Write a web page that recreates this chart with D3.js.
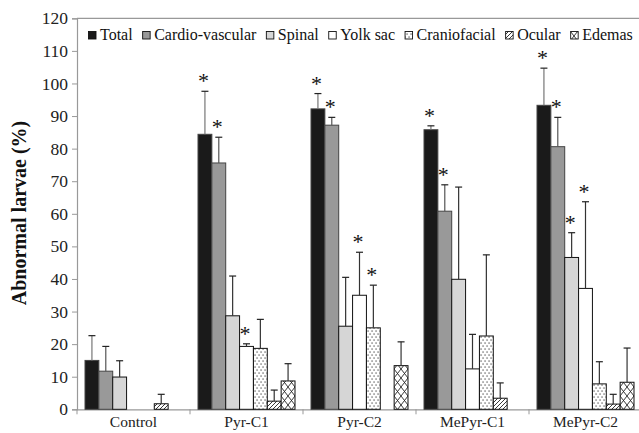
<!DOCTYPE html>
<html><head><meta charset="utf-8">
<script src="https://cdn.jsdelivr.net/npm/d3@7/dist/d3.min.js"></script>
<style>body{margin:0;background:#fff}svg{display:block}</style>
</head><body><svg id="c" width="639" height="433"></svg>
<script>
const groups = ["Control","Pyr-C1","Pyr-C2","MePyr-C1","MePyr-C2"];
const series = ["Total","Cardio-vascular","Spinal","Yolk sac","Craniofacial","Ocular","Edemas"];
// values per series, ordered by group
const total    = [15.0, 84.4, 92.2, 85.8, 93.3];
const cardio   = [11.7, 75.6, 87.2, 60.8, 80.6];
const spinal   = [9.9, 28.7, 25.5, 39.9, 46.6];
const yolk     = [0, 19.3, 35.0, 12.4, 37.1];
const cranio   = [0, 18.7, 25.0, 22.5, 7.8];
const ocular   = [1.7, 2.5, 0, 3.4, 1.6];
const edemas   = [0, 8.7, 13.4, 0, 8.3];
// upper error bar ends
const totalErr  = [22.6, 97.6, 96.9, 87.0, 104.7];
const cardioErr = [19.3, 83.5, 89.6, 68.9, 89.6];
const spinalErr = [14.9, 40.9, 40.5, 68.2, 54.2];
const yolkErr   = [null, 20.1, 48.2, 23.0, 63.7];
const cranioErr = [null, 27.6, 38.1, 47.4, 14.6];
const ocularErr = [4.6, 5.9, null, 8.1, 4.6];
const edemasErr = [null, 14.0, 20.7, null, 18.8];
// significance stars (1 = marked)
const totalSig  = [0,1,1,1,1];
const cardioSig = [0,1,1,1,1];
const spinalSig = [0,0,0,0,1];
const yolkSig   = [0,1,1,0,1];
const cranioSig = [0,0,1,0,0];
const ocularSig = [0,0,0,0,0];
const edemasSig = [0,0,0,0,0];
const yTicks = [0,10,20,30,40,50,60,70,80,90,100,110,120];

const vals = [total,cardio,spinal,yolk,cranio,ocular,edemas];
const errs = [totalErr,cardioErr,spinalErr,yolkErr,cranioErr,ocularErr,edemasErr];
const sigs = [totalSig,cardioSig,spinalSig,yolkSig,cranioSig,ocularSig,edemasSig];
const FF = "'Liberation Serif'";

const svg = d3.select("#c");
const defs = svg.append("defs");
// dots
const pd = defs.append("pattern").attr("id","dots").attr("patternUnits","userSpaceOnUse").attr("width",4).attr("height",6);
pd.append("rect").attr("width",4).attr("height",6).attr("fill","#fff");
pd.append("rect").attr("x",0.5).attr("y",0.5).attr("width",1.1).attr("height",1.1).attr("fill","#222");
pd.append("rect").attr("x",2.5).attr("y",3.5).attr("width",1.1).attr("height",1.1).attr("fill","#222");
// diagonal hatch
const ph = defs.append("pattern").attr("id","hatch").attr("patternUnits","userSpaceOnUse").attr("width",4).attr("height",4);
ph.append("rect").attr("width",4).attr("height",4).attr("fill","#fff");
ph.append("path").attr("d","M-1,1 l2,-2 M0,4 l4,-4 M3,5 l2,-2").attr("stroke","#222").attr("stroke-width",0.9);
// cross hatch
const px = defs.append("pattern").attr("id","cross").attr("patternUnits","userSpaceOnUse").attr("width",7).attr("height",9);
px.append("rect").attr("width",7).attr("height",9).attr("fill","#fff");
px.append("path").attr("d","M0,0 L7,9 M7,0 L0,9").attr("stroke","#222").attr("stroke-width",0.9);

const fills = ["#1a1a1a","#999999","#d6d6d6","#ffffff","url(#dots)","url(#hatch)","url(#cross)"];
const errColors = ["#777","#555","#333","#333","#333","#333","#333"];

const y = d3.scaleLinear().domain([0,120]).range([409.3,18.3]);
const x0 = d3.scaleBand().domain(groups).range([77,642]).padding(0);
const x1 = d3.scaleBand().domain(series).range([8, x0.bandwidth()-8]).padding(0);

// top border
svg.append("line").attr("x1",77).attr("x2",642).attr("y1",y(120)).attr("y2",y(120)).attr("stroke","#999").attr("stroke-width",1.2);

// y axis
const ya = svg.append("g").attr("transform","translate(77,0)")
  .call(d3.axisLeft(y).tickValues(yTicks).tickSize(5).tickPadding(4));
ya.select(".domain").attr("stroke","#999").attr("stroke-width",1.2);
ya.selectAll(".tick line").attr("stroke","#999");
ya.selectAll(".tick text").attr("font-size",17.5).attr("fill","#222").style("font-family",FF);

// x axis
const xa = svg.append("g").attr("transform",`translate(0,${y(0)})`)
  .call(d3.axisBottom(x0).tickSize(0).tickPadding(7));
xa.select(".domain").attr("stroke","#999").attr("stroke-width",1.2);
xa.selectAll(".tick text").attr("font-size",15.5).attr("fill","#222").style("font-family",FF);
// boundary ticks
xa.selectAll(".bt").data(groups).enter().append("line")
  .attr("x1",d=>x0(d)).attr("x2",d=>x0(d)).attr("y1",0).attr("y2",5).attr("stroke","#999");

// bars
const gG = svg.selectAll(".grp").data(groups).enter().append("g").attr("transform",d=>`translate(${x0(d)},0)`);
series.forEach((s,si)=>{
  gG.each(function(g,gi){
    const v = vals[si][gi];
    const sel = d3.select(this);
    const bx = x1(s), bw = x1.bandwidth();
    if (v>0) {
      sel.append("rect").attr("x",bx).attr("y",y(v)).attr("width",bw).attr("height",y(0)-y(v))
        .attr("fill",fills[si]).attr("stroke", si<2 ? "#444" : "#111").attr("stroke-width",1);
    }
    const e = errs[si][gi];
    const cx = bx + bw/2;
    if (e!=null) {
      sel.append("line").attr("x1",cx).attr("x2",cx).attr("y1",y(v)).attr("y2",y(e)).attr("stroke",errColors[si]).attr("stroke-width",1.2);
      sel.append("line").attr("x1",cx-3.5).attr("x2",cx+3.5).attr("y1",y(e)).attr("y2",y(e)).attr("stroke","#222").attr("stroke-width",1.2);
    }
    if (sigs[si][gi]) {
      sel.append("text").attr("x",cx-1.5).attr("y",y(e)-3).attr("text-anchor","middle")
        .attr("font-size",22).attr("fill","#111").style("font-family",FF).text("*");
    }
  });
});

// legend
const lg = svg.append("g");
let lx = 88.5;
series.forEach((s,si)=>{
  lg.append("rect").attr("x",lx).attr("y",31.5).attr("width",7.5).attr("height",7.5)
    .attr("fill",fills[si]).attr("stroke","#111").attr("stroke-width",0.9);
  const t = lg.append("text").attr("x",lx+11.5).attr("y",39.5).attr("font-size",16).attr("fill","#111").style("font-family",FF).text(s);
  lx += 11.5 + t.node().getComputedTextLength() + 10;
});

// y label
svg.append("text").attr("transform","translate(26,213) rotate(-90)").attr("text-anchor","middle")
  .attr("font-size",20).attr("font-weight","bold").attr("fill","#111").style("font-family",FF).text("Abnormal larvae (%)");
</script></body></html>
